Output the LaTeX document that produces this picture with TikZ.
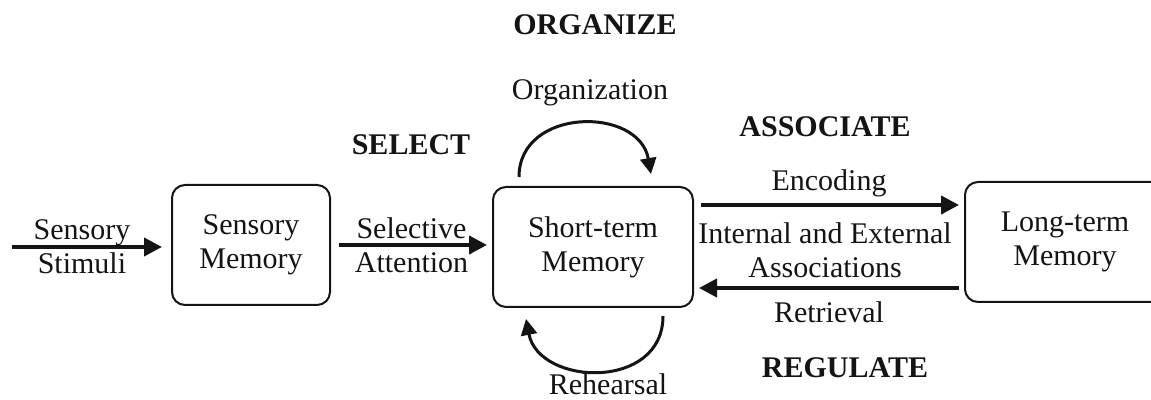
\documentclass[tikz,border=0pt]{standalone}
\usepackage{fontspec}
\setmainfont{Liberation Serif}
\usetikzlibrary{positioning, calc, arrows.meta}
\definecolor{Ink}{HTML}{141414}
\tikzset{
    memory/.style={rectangle, rounded corners=6.5pt, draw=Ink, line width=1pt, align=center, text=Ink, font=\fontsize{15}{17}\selectfont, inner sep=0pt},
    lbl/.style={align=center, text=Ink, font=\fontsize{15}{17}\selectfont, inner sep=1pt},
    stage/.style={text=Ink, font=\bfseries\fontsize{15}{17}\selectfont, inner sep=0pt},
    arrow/.style={-{Triangle[length=9pt,width=9pt]}, line width=2pt, color=Ink},
    curvearrow/.style={-{Triangle[length=8pt,width=8pt]}, line width=1.5pt, color=Ink},
}

\begin{document}
\begin{tikzpicture}[x=0.5pt, y=-0.5pt]
    \useasboundingbox (0,0) rectangle (1151,400);

    % Memories
    \node[memory, minimum width=79pt, minimum height=60pt] (sm) at (251,245) {Sensory\\Memory};
    \node[memory, minimum width=100pt, minimum height=60pt] (stm) at (593,247) {Short-term\\Memory};
    \node[memory, minimum width=100pt, minimum height=60pt] (ltm) at (1065,242) {Long-term\\Memory};

    % Flow
    \coordinate (in) at (12,247);
    \coordinate (enc) at (0,205);
    \coordinate (ret) at (0,288);
    \draw[arrow, shorten >=4.5pt] (in) -- node[lbl, pos=.44] {Sensory\\Stimuli} (in -| sm.west);
    \draw[arrow, shorten <=4pt, shorten >=2.5pt] (sm.east) -- node[lbl] {Selective\\Attention} (sm.east -| stm.west);
    \draw[arrow, shorten <=3.5pt, shorten >=2.5pt] (stm.east |- enc) -- node[lbl, above=2pt] {Encoding} (ltm.west |- enc);
    \draw[arrow, shorten <=2.5pt, shorten >=2.5pt] (ltm.west |- ret) -- node[lbl, below=5pt] {Retrieval} (stm.east |- ret);
    \node[lbl] (assoc) at (825,250) {Internal and External\\Associations};

    % Loops on short-term memory
    \draw[curvearrow] ($(stm.north west)+(27,-9)$) .. controls +(0,-70) and +(-12,-68) .. ($(stm.north west)+(159,-12)$);
    \node[lbl, anchor=base] (org) at (590,100) {Organization};
    \draw[curvearrow] ($(stm.south east)+(-31,8)$) .. controls +(0,75) and +(13,67) .. ($(stm.south west)+(34,11)$);
    \node[lbl, anchor=base] (reh) at (608,395) {Rehearsal};

    % Stages
    \node[stage, anchor=base] (organize) at (595,35) {ORGANIZE};
    \node[stage, anchor=base] (select) at (411,155) {SELECT};
    \node[stage, anchor=base] (associate) at (825,137) {ASSOCIATE};
    \node[stage, anchor=base] (regulate) at (845,378) {REGULATE};
\end{tikzpicture}
\end{document}
